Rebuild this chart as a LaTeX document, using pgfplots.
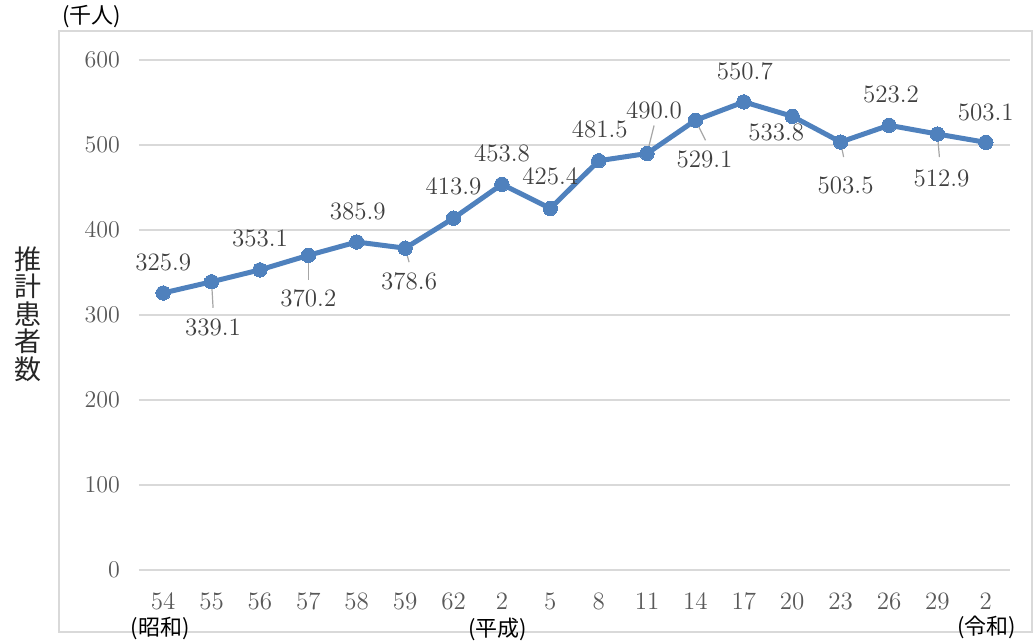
\documentclass[border=0pt]{standalone}
\usepackage{fontspec}
\usepackage{pgfplots}
\usepackage{pgfplotstable}
\pgfplotsset{compat=1.18}
\newfontfamily\cjk{Noto Sans CJK JP}
\definecolor{lineblue}{RGB}{79,129,189}
\definecolor{gridgray}{RGB}{217,217,217}
\definecolor{ticktext}{RGB}{89,89,89}
\definecolor{labeltext}{RGB}{64,64,64}
\definecolor{leader}{RGB}{166,166,166}

\pgfplotstableread{
x y lab dx dy
0 325.9 325.9 0 15.5
1 339.1 339.1 0.75 -23
2 353.1 353.1 0 15.75
3 370.2 370.2 0 -21.5
4 385.9 385.9 0.5 15.5
5 378.6 378.6 2 -16.75
6 413.9 413.9 0 16
7 453.8 453.8 0 15.5
8 425.4 425.4 0 16
9 481.5 481.5 0.5 15.5
10 490.0 490.0 3.5 21.5
11 529.1 529.1 4.5 -19.5
12 550.7 550.7 0.5 15.25
13 533.8 533.8 -8 -8.25
14 503.5 503.5 2.5 -21.5
15 523.2 523.2 1 15.5
16 512.9 512.9 2 -22
17 503.1 503.1 0 15
}\data

\begin{document}
\begin{tikzpicture}
\useasboundingbox (-69.5pt,-35.5pt) rectangle (448pt,285pt);
\draw[gridgray, line width=0.6pt] (-40pt,-31pt) rectangle (446.5pt,269.5pt);
\node[font=\cjk\fontsize{11}{13}\selectfont, text=black] at (-23.5pt,276.5pt) {(千人)};
\node[font=\cjk\fontsize{13.5}{13.8}\selectfont, text=black!85, align=center] at (-55.5pt,128pt) {推\\計\\患\\者\\数};
\begin{axis}[
  at={(0,0)}, anchor=south west,
  scale only axis,
  width=435.5pt, height=255pt,
  xmin=-0.5, xmax=17.5,
  ymin=0, ymax=600,
  clip=false,
  axis line style={draw=none},
  major tick length=0pt,
  ymajorgrids,
  grid style={gridgray, line width=0.8pt},
  ytick={0,100,...,600},
  xtick={0,...,17},
  xticklabels={54,55,56,57,58,59,62,2,5,8,11,14,17,20,23,26,29,2},
  tick label style={font=\fontsize{12.5}{15}\selectfont, text=ticktext},
  yticklabel style={xshift=-6pt},
  xticklabel style={yshift=-8pt},
]
\draw[leader, line width=0.6pt] (axis cs:1,339.1) -- ++(0.75pt,-13pt);
\draw[leader, line width=0.6pt] (axis cs:3,370.2) -- ++(0pt,-12.5pt);
\draw[leader, line width=0.6pt] (axis cs:5,378.6) -- ++(2pt,-7pt);
\draw[leader, line width=0.6pt] (axis cs:10,490.0) -- ++(3.5pt,14pt);
\draw[leader, line width=0.6pt] (axis cs:11,529.1) -- ++(5pt,-10pt);
\draw[leader, line width=0.6pt] (axis cs:14,503.5) -- ++(1.5pt,-7.5pt);
\draw[leader, line width=0.6pt] (axis cs:16,512.9) -- ++(1pt,-11.5pt);
\addplot[
  lineblue, line width=2.5pt, mark=*, mark size=3.6pt,
  mark options={fill=lineblue, draw=lineblue, line width=0pt},
  nodes near coords, point meta=explicit symbolic,
  visualization depends on={\thisrow{dx}\as\dx},
  visualization depends on={\thisrow{dy}\as\dy},
  every node near coord/.append style={anchor=center, xshift=\dx pt, yshift=\dy pt,
    font=\fontsize{12.5}{15}\selectfont, text=labeltext},
] table[x=x, y=y, meta=lab] {\data};
\node[font=\cjk\fontsize{11}{13}\selectfont, text=black] at (axis cs:0,0) [xshift=-1.5pt, yshift=-29.5pt] {(昭和)};
\node[font=\cjk\fontsize{11}{13}\selectfont, text=black] at (axis cs:7,0) [xshift=-2pt, yshift=-29.5pt] {(平成)};
\node[font=\cjk\fontsize{11}{13}\selectfont, text=black] at (axis cs:17,0) [xshift=0.5pt, yshift=-28.5pt] {(令和)};
\end{axis}
\end{tikzpicture}
\end{document}
